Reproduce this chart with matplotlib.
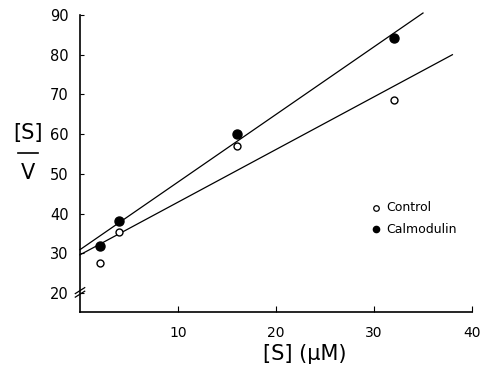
import matplotlib
matplotlib.use("Agg")
import matplotlib.pyplot as plt

# Data
conc = [2, 4, 16, 32]
control = [27.5, 35.4, 57.0, 68.6]
calmodulin = [31.8, 38.1, 60.0, 84.2]

fit_control_x = [0, 38]
fit_control_y = [29.6, 80.0]
fit_calm_x = [0, 35]
fit_calm_y = [30.9, 90.5]

xticks = [10, 20, 30, 40]
yticks = [20, 30, 40, 50, 60, 70, 80, 90]

plt.rcParams['font.family'] = ['DejaVu Sans']

fig = plt.figure(figsize=(4.83, 3.68), dpi=100)
ax = fig.add_axes([80/483, 56/368, 392/483, 297/368])
ax.set_xlim(0, 40)
ax.set_ylim(15.2, 90)

ax.plot(fit_calm_x, fit_calm_y, color='black', lw=0.9, clip_on=False)
ax.plot(fit_control_x, fit_control_y, color='black', lw=0.9, clip_on=False)
ax.plot(conc, control, 'o', mfc='white', mec='black', mew=1.0, ms=5, clip_on=False, zorder=3)
ax.plot(conc, calmodulin, 'o', mfc='black', mec='black', ms=6.5, clip_on=False, zorder=4)

ax.spines['top'].set_visible(False)
ax.spines['right'].set_visible(False)
ax.spines['left'].set_linewidth(1.2)
ax.spines['bottom'].set_linewidth(1.2)

ax.set_xticks(xticks)
ax.set_xticklabels([str(t) for t in xticks], fontsize=10)
ax.set_yticks(yticks)
ax.set_yticklabels([str(t) for t in yticks], fontsize=10.5)
ax.tick_params(axis='x', direction='in', length=4, pad=10)
ax.tick_params(axis='y', direction='in', length=3, pad=8)

# axis break marks on y-axis
for dy in (0.0, 0.012):
    ax.plot([-0.012, 0.012], [0.05 + dy, 0.07 + dy], transform=ax.transAxes,
            color='black', lw=0.9, clip_on=False)

# Y label as fraction
fig.text(28/483, 1 - 133/368, '[S]', fontsize=15, ha='center', va='center')
fig.text(28/483, 1 - 173/368, 'V', fontsize=15, ha='center', va='center')
fig.add_artist(plt.Line2D([18/483, 38/483], [1 - 153/368, 1 - 153/368], color='black', lw=1.2))

# X label
fig.text(305/483, 1 - 354/368, '[S] (μM)', fontsize=15, ha='center', va='center')

# Legend
ax.plot([30.2], [41.5], 'o', mfc='white', mec='black', mew=0.9, ms=4)
ax.text(31.3, 41.5, 'Control', fontsize=9, va='center')
ax.plot([30.2], [36.0], 'o', mfc='black', mec='black', ms=4.5)
ax.text(31.3, 36.0, 'Calmodulin', fontsize=9, va='center')

fig.savefig('out.png', dpi=100)
